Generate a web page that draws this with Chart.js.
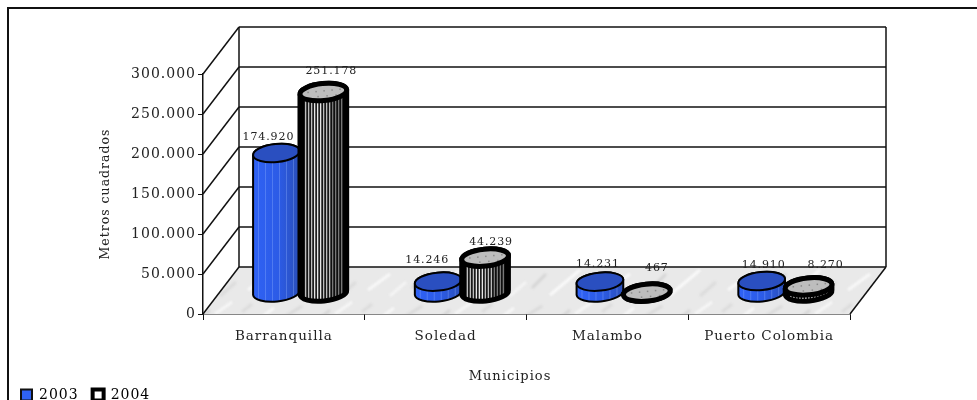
<!DOCTYPE html>
<html>
<head>
<meta charset="utf-8">
<script src="https://cdn.jsdelivr.net/npm/chart.js@4/dist/chart.umd.min.js"></script>
<style>
    html, body { margin: 0; padding: 0; background: #fff; overflow: hidden; }
    canvas { display: block; }
</style>
</head>
<body>
<canvas id="chart" width="977" height="400"></canvas>
<script>
// Values
const municipios = ['Barranquilla', 'Soledad', 'Malambo', 'Puerto Colombia'];
const serie2003 = [174920, 14246, 14231, 14910];
const serie2004 = [251178, 44239, 467, 8270];
const yTicks = [0, 50000, 100000, 150000, 200000, 250000, 300000];

// Fake 3D: depth of the box, and how far the cylinders sit inside it
const DEPTH_X = 36, DEPTH_Y = -47;
const BAR_DX = 16, BAR_DY = -21;
const FONT = '"DejaVu Serif", serif';

// Excel had hand placed labels, so each one gets its own nudge [dx, dy]
const nudge2003 = [[-8, -16], [-11, -21], [-2, -17], [2, -16]];
const nudge2004 = [[8, -21], [6, -15], [10, -24], [17, -21]];

function fmt(v) {
    return String(v).replace(/\B(?=(\d{3})+$)/g, '.');
}

// Grey marble texture for the floor
function marblePattern(ctx) {
    const c = document.createElement('canvas');
    c.width = 120; c.height = 60;
    const p = c.getContext('2d');
    p.fillStyle = '#e9e9e9';
    p.fillRect(0, 0, 120, 60);
    p.filter = 'blur(1.2px)';
    p.lineWidth = 3;
    const streaks = [[8, 50, 30, 34, '#f8f8f8'], [40, 20, 62, 6, '#dadada'], [70, 55, 100, 30, '#f9f9f9'],
        [95, 14, 112, 2, '#f6f6f6'], [18, 20, 34, 8, '#f7f7f7'], [52, 48, 66, 34, '#d6d6d6'], [100, 56, 116, 42, '#dcdcdc'],
        [2, 12, 12, 4, '#dcdcdc'], [30, 56, 46, 42, '#f4f4f4'], [76, 22, 90, 10, '#d8d8d8']];
    streaks.forEach(s => {
        p.strokeStyle = s[4];
        p.beginPath(); p.moveTo(s[0], s[1]); p.lineTo(s[2], s[3]); p.stroke();
    });
    return ctx.createPattern(c, 'repeat');
}

function line(ctx, x1, y1, x2, y2) {
    ctx.beginPath(); ctx.moveTo(x1, y1); ctx.lineTo(x2, y2); ctx.stroke();
}

// Walls and floor, from the scales
const boxPlugin = {
    id: 'box',
    beforeDraw(chart) {
        const ctx = chart.ctx;
        ctx.letterSpacing = '1px';
        // only the top and left of the original frame made it into the picture
        ctx.save();
        ctx.strokeStyle = '#111';
        ctx.lineWidth = 2;
        ctx.beginPath();
        ctx.moveTo(8, 402); ctx.lineTo(8, 8); ctx.lineTo(977, 8);
        ctx.stroke();
        ctx.restore();
    },
    beforeDatasetsDraw(chart) {
        const ctx = chart.ctx;
        const { left, right } = chart.chartArea;
        const y = chart.scales.y;
        const y0 = y.getPixelForValue(0);
        const yMax = y.getPixelForValue(yTicks[yTicks.length - 1]);
        ctx.save();
        ctx.fillStyle = marblePattern(ctx);
        ctx.beginPath();
        ctx.moveTo(left, y0); ctx.lineTo(left + DEPTH_X, y0 + DEPTH_Y);
        ctx.lineTo(right + DEPTH_X, y0 + DEPTH_Y); ctx.lineTo(right, y0);
        ctx.closePath(); ctx.fill();
        ctx.strokeStyle = '#111';
        ctx.lineWidth = 1.5;
        yTicks.forEach(t => {
            const py = y.getPixelForValue(t);
            line(ctx, left, py, left + DEPTH_X, py + DEPTH_Y);
            line(ctx, left + DEPTH_X, py + DEPTH_Y, right + DEPTH_X, py + DEPTH_Y);
        });
        line(ctx, left + DEPTH_X, yMax + DEPTH_Y, left + DEPTH_X, y0 + DEPTH_Y);
        line(ctx, right + DEPTH_X, yMax + DEPTH_Y, right + DEPTH_X, y0 + DEPTH_Y);
        line(ctx, right, y0, right + DEPTH_X, y0 + DEPTH_Y);
        ctx.restore();
    },
    afterDatasetsDraw(chart) {
        const ctx = chart.ctx;
        [0, 1].forEach(i => {
            chart.getDatasetMeta(i).data.forEach(bar => {
                const top = bar.y + BAR_DY, base = bar.base + BAR_DY, cx = bar.x + BAR_DX;
                cylinder(ctx, cx, top, base, bar.width / 2, i === 0);
            });
        });
        // data labels last so they sit over the bars
        ctx.save();
        ctx.font = '11px ' + FONT;
        ctx.letterSpacing = '0.9px';
        ctx.fillStyle = '#222';
        ctx.textAlign = 'center';
        ctx.textBaseline = 'middle';
        [[serie2003, nudge2003], [serie2004, nudge2004]].forEach(([vals, nudge], i) => {
            chart.getDatasetMeta(i).data.forEach((bar, j) => {
                ctx.fillText(fmt(vals[j]), bar.x + BAR_DX + nudge[j][0], bar.y + BAR_DY + nudge[j][1]);
            });
        });
        // the x title sits left of the plot centre in the original
        ctx.font = '13px ' + FONT;
        ctx.letterSpacing = '1px';
        ctx.fillText('Municipios', 510, 377);
        ctx.restore();
    }
};

function cylinder(ctx, cx, top, base, rx, blue) {
    const ry = blue ? 9 : 8.5, rot = -0.1;
    const bodyPath = () => {
        ctx.beginPath();
        ctx.ellipse(cx, base, rx, ry, rot, 0, Math.PI);
        ctx.ellipse(cx, top, rx, ry, rot, Math.PI, Math.PI * 2);
        ctx.closePath();
    };
    ctx.save();
    bodyPath();
    ctx.clip();
    if (blue) {
        const g = ctx.createLinearGradient(cx - rx, 0, cx + rx, 0);
        g.addColorStop(0, '#2f62f5');
        g.addColorStop(0.55, '#2c5be6');
        g.addColorStop(1, '#2a4fb8');
        ctx.fillStyle = g;
        ctx.fillRect(cx - rx - 2, top - 20, rx * 2 + 4, base - top + 40);
        ctx.fillStyle = 'rgba(150,180,255,0.35)';
        for (let x = cx - rx + 5; x < cx + rx; x += 7) ctx.fillRect(x, top - 20, 1, base - top + 40);
    } else {
        ctx.fillStyle = '#000';
        ctx.fillRect(cx - rx - 2, top - 20, rx * 2 + 4, base - top + 40);
        for (let x = cx - rx + 5; x < cx + rx - 5; x += 3) {
            const c = Math.abs(x - cx + 6) / rx;
            ctx.fillStyle = c < 0.2 ? '#e6e6e6' : (c < 0.55 ? '#bdbdbd' : '#777');
            ctx.fillRect(x, top - 20, 1.5, base - top + 40);
        }
    }
    ctx.restore();
    ctx.strokeStyle = '#000';
    ctx.lineWidth = blue ? 2 : 5;
    bodyPath();
    ctx.stroke();
    // cap
    ctx.beginPath();
    ctx.ellipse(cx, top, rx, ry, rot, 0, Math.PI * 2);
    ctx.fillStyle = blue ? '#2a4fc0' : '#bdbdbd';
    ctx.fill();
    if (!blue) {
        ctx.fillStyle = '#8a8a8a';
        for (let k = -2; k <= 2; k++) ctx.fillRect(cx + k * 8, top - 2 - k * 0.8, 1.5, 1.5);
        for (let k = -1; k <= 1; k++) ctx.fillRect(cx + k * 9 + 3, top + 3 - k * 0.8, 1.5, 1.5);
    }
    ctx.stroke();
}

new Chart(document.getElementById('chart'), {
    type: 'bar',
    data: {
        labels: municipios,
        datasets: [
            { label: '2003', data: serie2003, backgroundColor: 'transparent' },
            { label: '2004', data: serie2004, backgroundColor: 'transparent' }
        ]
    },
    options: {
        responsive: false,
        animation: false,
        events: [],
        datasets: { bar: { categoryPercentage: 0.58, barPercentage: 1 } },
        layout: { padding: { left: 7, right: 127, top: 74, bottom: -12 } },
        plugins: {
            tooltip: { enabled: false },
            legend: {
                position: 'bottom',
                align: 'start',
                labels: {
                    boxWidth: 11,
                    boxHeight: 11,
                    padding: 14,
                    color: '#222',
                    font: { family: FONT, size: 14 },
                    generateLabels: () => [
                        { text: '2003', fillStyle: '#2f62f5', strokeStyle: '#111', lineWidth: 2, datasetIndex: 0 },
                        { text: '2004', fillStyle: '#fff', strokeStyle: '#000', lineWidth: 4, datasetIndex: 1 }
                    ]
                }
            }
        },
        scales: {
            x: {
                grid: { drawOnChartArea: false, color: '#111', tickLength: 6, offset: true },
                border: { color: '#111', width: 1.5 },
                ticks: { color: '#222', padding: 8, maxRotation: 0, font: { family: FONT, size: 13.5 } },
                afterFit(scale) { scale.height = 60; }
            },
            y: {
                min: 0,
                max: 300000,
                grid: { drawOnChartArea: false, color: '#111', tickLength: 5 },
                border: { color: '#111', width: 1.5 },
                ticks: { color: '#222', padding: 2, stepSize: 50000, font: { family: FONT, size: 14 }, callback: v => fmt(v) },
                title: { display: true, text: 'Metros cuadrados', color: '#222', padding: { top: 91, bottom: 0 }, font: { family: FONT, size: 12.5 } },
                afterFit(scale) { scale.width = 196; }
            }
        }
    },
    plugins: [boxPlugin]
});
</script>
</body>
</html>
